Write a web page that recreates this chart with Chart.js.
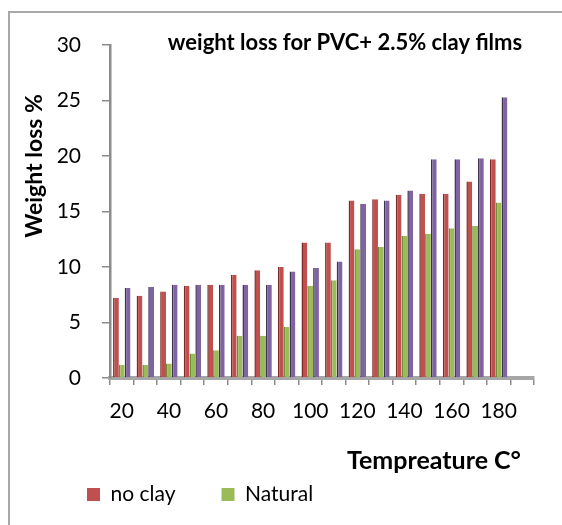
<!DOCTYPE html>
<html><head><meta charset="utf-8">
<script src="https://cdn.jsdelivr.net/npm/chart.js@4.4.1/dist/chart.umd.min.js"></script>
<style>
html,body{margin:0;padding:0;background:#fff;overflow:hidden}
#wrap{position:relative;width:562px;height:525px}
#frame{position:absolute;left:8px;top:11px;width:620px;height:620px;border:2px solid #a8a8a8;box-sizing:border-box}
canvas{position:absolute;left:0;top:0}
</style></head><body>
<div id="wrap"><div id="frame"></div><canvas id="c" width="562" height="525"></canvas></div>
<script>
// Temperature categories (°C) on the floor axis; the last slot is empty
const categories = [20,30,40,50,60,70,80,90,100,110,120,130,140,150,160,170,180,190];
const tickLabels = ['20','40','60','80','100','120','140','160','180'];
const seriesNames = ['no clay','Natural','Series3'];
const noClay  = [7.2,7.4,7.8,8.3,8.4,9.3,9.7,10.0,12.2,12.2,16.0,16.1,16.5,16.6,16.6,17.7,19.7];
const natural = [1.2,1.2,1.3,2.2,2.5,3.8,3.8,4.6,8.3,8.8,11.6,11.8,12.8,13.0,13.5,13.7,15.8];
const series3 = [8.1,8.2,8.4,8.4,8.4,8.4,8.4,9.6,9.9,10.5,15.7,16.0,16.9,19.7,19.7,19.8,25.3];
const yTicks = [0,5,10,15,20,25,30];

const FONT = 'Lato';

const textPlugin = {
  id: 'texts',
  afterDraw(chart) {
    const ctx = chart.ctx;
    ctx.save();
    ctx.fillStyle = '#000';
    // chart title
    ctx.font = 'bold 22px ' + FONT;
    ctx.textAlign = 'center';
    ctx.textBaseline = 'alphabetic';
    ctx.fillText('weight loss for PVC+ 2.5% clay films', 345, 50);
    // x axis title
    ctx.font = 'bold 25px ' + FONT;
    ctx.textAlign = 'right';
    ctx.fillText('Tempreature C°', 521, 469);
    // y axis title
    ctx.translate(42, 166);
    ctx.rotate(-Math.PI / 2);
    ctx.font = 'bold 23px ' + FONT;
    ctx.textAlign = 'center';
    ctx.fillText('Weight loss %', 0, 0);
    ctx.restore();
  }
};

const mk = (i, data, bg, edge) => ({
  label: seriesNames[i], data, backgroundColor: bg, borderColor: edge,
  borderWidth: {left: 1.5, top: 0, right: 0, bottom: 0}, borderSkipped: false,
  categoryPercentage: 0.74, barPercentage: 1.0
});

new Chart(document.getElementById('c'), {
  type: 'bar',
  data: {
    labels: categories,
    datasets: [
      mk(0, noClay, '#C0504D', '#7a2b29'),
      mk(1, natural, '#9BBB59', '#6e8a3a'),
      mk(2, series3, '#8064A2', '#3f3152')
    ]
  },
  options: {
    responsive: false,
    animation: false,
    layout: {padding: {left: 41, right: 28, top: 45, bottom: 10}},
    plugins: {
      title: {display: false},
      tooltip: {enabled: false},
      legend: {
        position: 'bottom', align: 'start',
        labels: {
          boxWidth: 13, boxHeight: 13, padding: 46, color: '#000',
          font: {family: FONT, size: 21},
          filter: (item) => item.datasetIndex < 2,
          generateLabels: (chart) => Chart.defaults.plugins.legend.labels.generateLabels(chart).map(l => ({...l, lineWidth: 0}))
        }
      }
    },
    scales: {
      x: {
        grid: {display: true, drawOnChartArea: false, offset: true, tickLength: 7, color: '#8c8c8c', lineWidth: 1.5},
        border: {display: true, color: '#a6a6a6', width: 4},
        ticks: {
          autoSkip: false, maxRotation: 0, minRotation: 0, padding: 14, color: '#000',
          font: {family: FONT, size: 21},
          callback: function(v, i) { const s = String(categories[i]); return tickLabels.includes(s) ? s : ''; }
        },
        afterFit: (s) => { s.height = 60; }
      },
      y: {
        min: yTicks[0], max: yTicks[yTicks.length - 1],
        afterBuildTicks: (s) => { s.ticks = yTicks.map(v => ({value: v})); },
        ticks: {padding: 21, color: '#000', font: {family: FONT, size: 21}},
        grid: {drawOnChartArea: false, tickLength: 8, color: '#8c8c8c', lineWidth: 1.5},
        border: {display: true, color: '#8c8c8c', width: 2.5},
        afterFit: (s) => { s.width = 69; }
      }
    }
  },
  plugins: [textPlugin]
});
</script>
</body></html>
